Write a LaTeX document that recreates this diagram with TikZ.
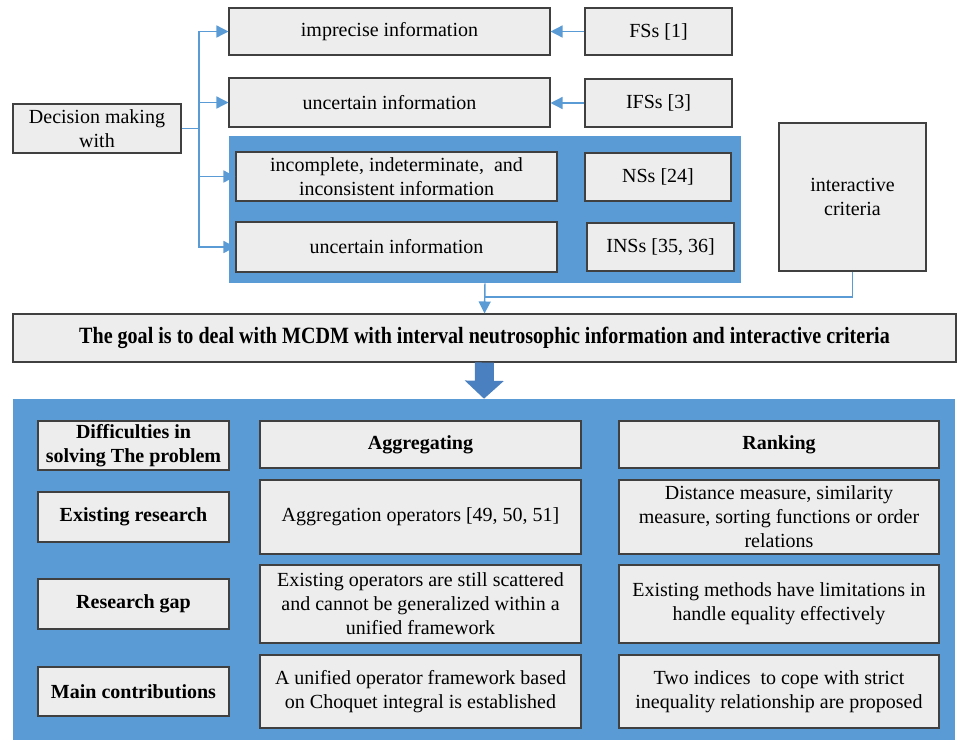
\documentclass[tikz,border=0pt]{standalone}
\usepackage{fontspec}
\setmainfont{Liberation Serif}
\usetikzlibrary{arrows.meta}
\definecolor{bblue}{HTML}{5B9BD5}
\definecolor{dblue}{HTML}{4A80C0}
\definecolor{boxfill}{HTML}{EDEDED}
\definecolor{boxline}{HTML}{404040}
\tikzset{
  bxs/.style={draw=boxline, fill=boxfill, line width=0.8pt, align=center, inner sep=2pt,
    font=\fontsize{15}{18}\selectfont},
  bl/.style={draw=bblue, line width=1.1pt},
  blarr/.style={bl, -{Triangle[length=9pt,width=9pt]}},
  boldtxt/.style={font=\fontsize{15}{18}\selectfont\bfseries},
}
\newcommand\bx[6][]{%
  \node[bxs, #1, minimum width={(#4-#2)*0.75pt}, minimum height={(#5-#3)*0.75pt}]
    (#6) at ({(#2+#4)/2},{(#3+#5)/2})}
\begin{document}
\begin{tikzpicture}[x=0.75pt,y=-0.75pt]
\useasboundingbox (0,0) rectangle (957,740);
% blue group panel
\node[fill=bblue, minimum width={512*0.75pt}, minimum height={147*0.75pt}, inner sep=0pt] (grp) at (485,209.5) {};
% top boxes
\bx{13}{104}{181}{153}{dm} {Decision making\\with};
\bx{229}{8}{550}{55}{imp} {imprecise information};
\bx{229}{78}{550}{127}{unc} {uncertain information};
\bx{236}{152}{557}{201}{inc} {incomplete, indeterminate,\ \ and\\inconsistent information};
\bx{236}{222}{557}{272}{unc2} {uncertain information};
\bx{585}{8}{732}{55}{fs} {FSs [1]};
\bx{585}{79}{732}{127}{ifs} {IFSs [3]};
\bx{585}{153}{731}{201}{ns} {NSs [24]};
\bx{587}{223}{734}{271}{ins} {INSs [35, 36]};
\bx{779}{123}{926}{271}{ic} {interactive\\criteria};
% goal
\bx{13}{314}{956}{362}{goal} {\bfseries\scalebox{0.86}[1]{\fontsize{17.5}{20}\selectfont The goal is to deal with MCDM with interval neutrosophic information and interactive criteria}};
% connectors top
\coordinate (tr) at (199,128.5);
\draw[bl] (dm.east) -- (tr);
\draw[blarr] (tr) |- (imp.west);
\draw[blarr] (tr) |- (unc.west);
\draw[blarr] (tr) |- (inc.west);
\draw[blarr] (tr) |- (unc2.west);
\draw[blarr] (fs.west) -- (imp.east);
\draw[blarr] (ifs.west) -- (unc.east |- ifs.west);
\coordinate (j) at (485,297);
\draw[bl] (ic.south) |- (j);
\draw[blarr] (grp.south) -- (goal.north);
% bottom panel
\node[fill=bblue, minimum width={942*0.75pt}, minimum height={341*0.75pt}, inner sep=0pt] (pan) at (484,569.5) {};
\draw[dblue, line width={19*0.75pt}, -{Triangle[length={18*0.75pt},width={38*0.75pt}]}] (goal.south) -- (pan.north);
% left column
\bx[boldtxt]{38}{421}{229}{470}{diff} {Difficulties in\\solving The problem};
\bx[boldtxt]{38}{492}{229}{542}{er} {Existing research};
\bx[boldtxt]{38}{579}{229}{629}{rg} {Research gap};
\bx[boldtxt]{38}{667}{229}{716}{mc} {Main contributions};
% middle column
\bx[boldtxt]{260}{421}{581}{468}{agg} {Aggregating};
\bx{260}{480}{581}{554}{ao} {Aggregation operators [49, 50, 51]};
\bx{260}{565}{581}{643}{eo} {Existing operators are still scattered\\and cannot be generalized within a\\unified framework};
\bx{260}{655}{581}{728}{uo} {A unified operator framework based\\on Choquet integral is established};
% right column
\bx[boldtxt]{619}{421}{939}{468}{rk} {Ranking};
\bx{619}{480}{939}{554}{dsm} {Distance measure, similarity\\measure, sorting functions or order\\relations};
\bx{619}{565}{939}{643}{em} {Existing methods have limitations in\\handle equality effectively};
\bx{619}{655}{939}{728}{ti} {Two indices\ \ to cope with strict\\inequality relationship are proposed};
\end{tikzpicture}
\end{document}
